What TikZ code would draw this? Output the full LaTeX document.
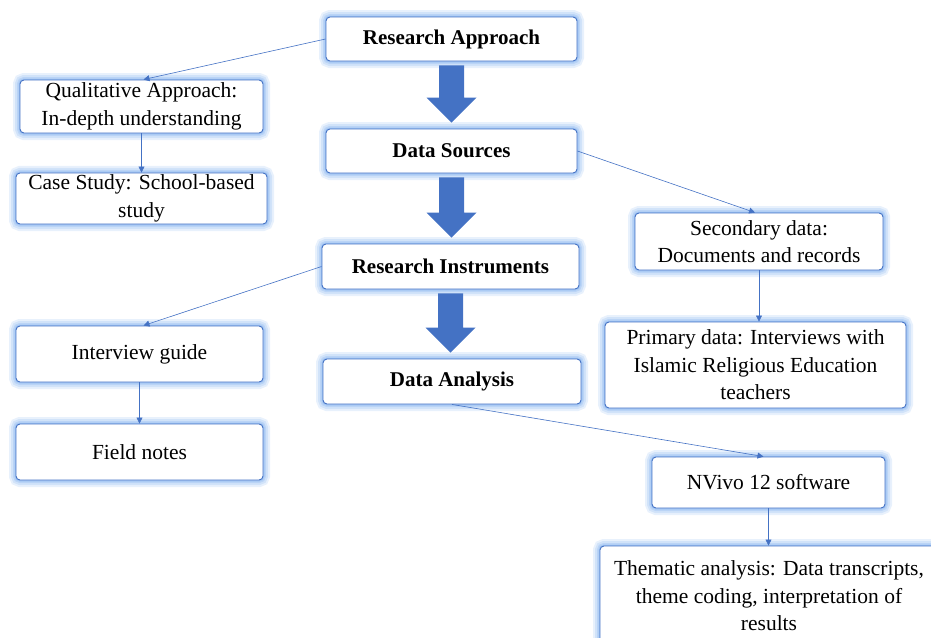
\documentclass[tikz,border=0pt]{standalone}
\usepackage{fontspec}
\setmainfont{Liberation Serif}
\usetikzlibrary{arrows.meta,calc}

\definecolor{edgec}{HTML}{4472C4}
\definecolor{glowc}{HTML}{8DB8F0}

\tikzset{
  glow/.style={preaction={draw=glowc,line width=14pt,draw opacity=0.2},
               preaction={draw=glowc,line width=10pt,draw opacity=0.25},
               preaction={draw=glowc,line width=6pt,draw opacity=0.35},
               preaction={draw=glowc,line width=3pt,draw opacity=0.5}},
  box/.style={glow,draw=edgec,line width=0.9pt,fill=white,rounded corners=4pt,
              align=center,inner sep=2pt,font=\fontsize{21.5}{27.5}\selectfont},
  mainbox/.style={box,font=\fontsize{21}{27}\selectfont\bfseries},
  link/.style={draw=edgec,line width=0.6pt,-{Triangle[length=6pt,width=6pt]}}
}

\begin{document}
\begin{tikzpicture}[x=1pt,y=-1pt]
  \useasboundingbox (0,0) rectangle (931,637);
  % main column
  \node[mainbox,minimum width=251,minimum height=44] (ra) at (451.5,39) {Research Approach};
  \node[mainbox,minimum width=251,minimum height=44] (ds) at (451.5,151) {Data Sources};
  \node[mainbox,minimum width=257,minimum height=45] (ri) at (450.5,266.5) {Research Instruments};
  \node[mainbox,minimum width=258,minimum height=45] (da) at (452,381.5) {Data Analysis};
  % left branch
  \node[box,minimum width=243,minimum height=53] (qa) at (141.5,106.5) {Qualitative Approach:\\In-depth understanding};
  \node[box,minimum width=251,minimum height=51] (cs) at (141.5,198.5) {Case Study: School-based\\study};
  \node[box,minimum width=247,minimum height=56] (ig) at (139.5,354) {Interview guide};
  \node[box,minimum width=247,minimum height=56] (fn) at (139.5,452) {Field notes};
  % right branch
  \node[box,minimum width=248,minimum height=57] (sd) at (759,241.5) {Secondary data:\\Documents and records};
  \node[box,minimum width=301,minimum height=86] (pd) at (755.5,365) {Primary data: Interviews with\\Islamic Religious Education\\teachers};
  \node[box,minimum width=233,minimum height=51] (nv) at (768.5,482.5) {NVivo 12 software};
  \node[box,minimum width=338,minimum height=100] (ta) at (769,596) {Thematic analysis: Data transcripts,\\theme coding, interpretation of\\results};
  % block arrows
  \foreach \a/\b in {ra/ds,ds/ri,ri/da}{
    \coordinate (s) at ($(\a.south)+(0,4)$);
    \coordinate (t) at ($(\a.south |- \b.north)+(0,-6)$);
    \fill[edgec] ($(s)+(-12.5,0)$) -- ($(s)+(12.5,0)$) -- ($(t)+(12.5,-25)$) -- ($(t)+(25,-25)$)
      -- (t) -- ($(t)+(-25,-25)$) -- ($(t)+(-12.5,-25)$) -- cycle;
  }
  % thin links
  \draw[link] (ra.west) -- ([xshift=2pt]qa.north);
  \draw[link] (qa.south) -- (cs.north);
  \draw[link] (ds.east) -- ([xshift=-4pt]sd.north);
  \draw[link] (ri.west) -- ([xshift=4pt]ig.north);
  \draw[link] (ig.south) -- (fn.north);
  \draw[link] (sd.south) -- (sd.south |- pd.north);
  \draw[link] (da.south) -- ([xshift=-5pt]nv.north);
  \draw[link] (nv.south) -- (nv.south |- ta.north);
\end{tikzpicture}
\end{document}
